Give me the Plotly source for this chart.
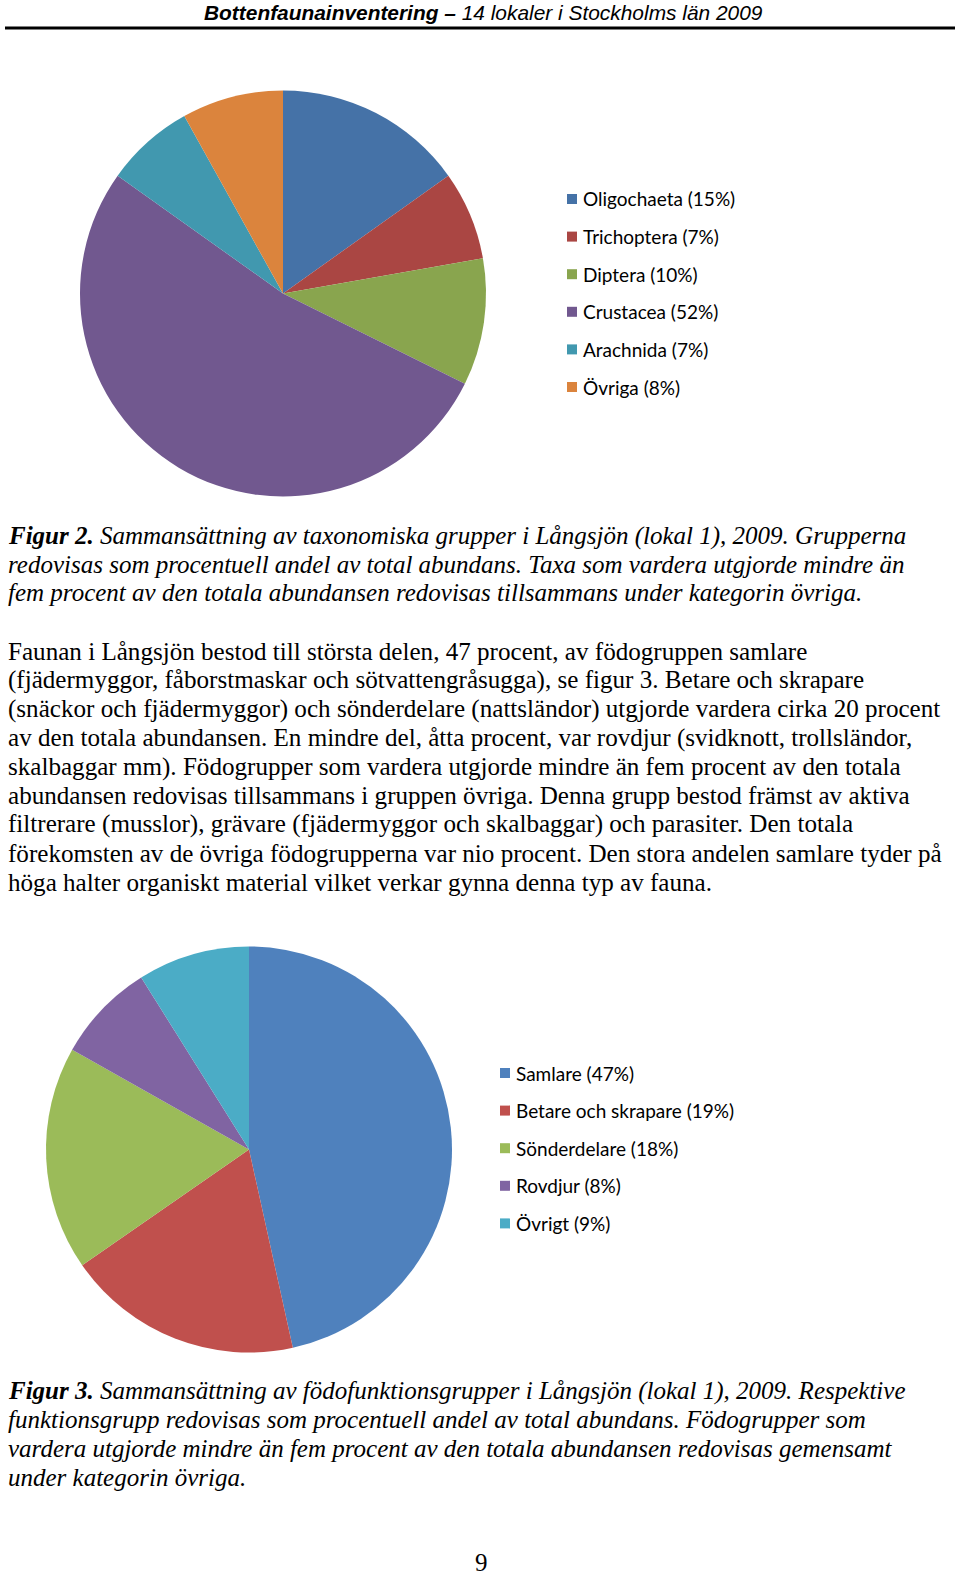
import plotly.graph_objects as go

W, H = 960, 1575

# ---- data ----
taxa_labels = ["Oligochaeta", "Trichoptera", "Diptera", "Crustacea", "Arachnida", "Övriga"]
taxa_values = [15, 7, 10, 52, 7, 8]
taxa_colors = ["#4572A7", "#AA4643", "#89A54E", "#71588F", "#4198AF", "#DB843D"]

food_labels = ["Samlare", "Betare och skrapare", "Sönderdelare", "Rovdjur", "Övrigt"]
food_values = [47, 19, 18, 8, 9]
food_colors = ["#4F81BD", "#C0504D", "#9BBB59", "#8064A2", "#4BACC6"]

header_bold = "Bottenfaunainventering –"
header_rest = " 14 lokaler i Stockholms län 2009"

caption2 = [
    "<b>Figur 2.</b> Sammansättning av taxonomiska grupper i Långsjön (lokal 1), 2009. Grupperna",
    "redovisas som procentuell andel av total abundans. Taxa som vardera utgjorde mindre än",
    "fem procent av den totala abundansen redovisas tillsammans under kategorin övriga.",
]
body = [
    "Faunan i Långsjön bestod till största delen, 47 procent, av födogruppen samlare",
    "(fjädermyggor, fåborstmaskar och sötvattengråsugga), se figur 3. Betare och skrapare",
    "(snäckor och fjädermyggor) och sönderdelare (nattsländor) utgjorde vardera cirka 20 procent",
    "av den totala abundansen. En mindre del, åtta procent, var rovdjur (svidknott, trollsländor,",
    "skalbaggar mm). Födogrupper som vardera utgjorde mindre än fem procent av den totala",
    "abundansen redovisas tillsammans i gruppen övriga. Denna grupp bestod främst av aktiva",
    "filtrerare (musslor), grävare (fjädermyggor och skalbaggar) och parasiter. Den totala",
    "förekomsten av de övriga födogrupperna var nio procent. Den stora andelen samlare tyder på",
    "höga halter organiskt material vilket verkar gynna denna typ av fauna.",
]
caption3 = [
    "<b>Figur 3.</b> Sammansättning av födofunktionsgrupper i Långsjön (lokal 1), 2009. Respektive",
    "funktionsgrupp redovisas som procentuell andel av total abundans. Födogrupper som",
    "vardera utgjorde mindre än fem procent av den totala abundansen redovisas gemensamt",
    "under kategorin övriga.",
]
page_number = "9"


def px(x):
    return x / W


def py(y):
    return 1 - y / H


fig = go.Figure()

# pie 1: center (283, 293.5), r 203
fig.add_trace(go.Pie(
    labels=taxa_labels, values=taxa_values, sort=False, direction="clockwise",
    rotation=0, textinfo="none", hoverinfo="label+percent",
    marker=dict(colors=taxa_colors, line=dict(width=0)),
    domain=dict(x=[px(283 - 203), px(283 + 203)], y=[py(293.5 + 203), py(293.5 - 203)]),
    showlegend=False,
))
# pie 2: center (249, 1149.5), r 203
fig.add_trace(go.Pie(
    labels=food_labels, values=food_values, sort=False, direction="clockwise",
    rotation=0, textinfo="none", hoverinfo="label+percent",
    marker=dict(colors=food_colors, line=dict(width=0)),
    domain=dict(x=[px(249 - 203), px(249 + 203)], y=[py(1149.5 + 203), py(1149.5 - 203)]),
    showlegend=False,
))

annotations = []
shapes = []

# header
annotations.append(dict(
    x=px(483), y=py(12), xref="paper", yref="paper", xanchor="center", yanchor="middle",
    text=f"<b><i>{header_bold}</i></b><i>{header_rest}</i>", showarrow=False,
    font=dict(family="Liberation Sans", size=20.9, color="#000"),
))
shapes.append(dict(type="line", xref="paper", yref="paper", x0=px(5), x1=px(955),
                   y0=py(28), y1=py(28), line=dict(color="#000", width=3)))


def legend(labels, values, colors, x_sq, x_txt, y0, dy, size):
    for i, (lab, val, col) in enumerate(zip(labels, values, colors)):
        yc = y0 + i * dy
        shapes.append(dict(type="rect", xref="paper", yref="paper",
                           x0=px(x_sq), x1=px(x_sq + 10), y0=py(yc + 5), y1=py(yc - 5),
                           fillcolor=col, line=dict(width=0)))
        annotations.append(dict(
            x=px(x_txt), y=py(yc), xref="paper", yref="paper", xanchor="left", yanchor="middle",
            text=f"{lab} ({val}%)", showarrow=False,
            font=dict(family="Lato", size=size, color="#000"),
        ))


legend(taxa_labels, taxa_values, taxa_colors, 567, 581, 199, 37.6, 19)
legend(food_labels, food_values, food_colors, 500, 514, 1073, 37.6, 19)


def text_lines(lines, y0, dy, italic, size=25):
    for i, line in enumerate(lines):
        t = f"<i>{line}</i>" if italic else line
        annotations.append(dict(
            x=px(6), y=py(y0 + i * dy), xref="paper", yref="paper", xanchor="left",
            yanchor="middle", text=t, showarrow=False,
            font=dict(family="Liberation Serif", size=size, color="#000"),
        ))


text_lines(caption2, 535.5, 28.7, True)
text_lines(body, 651, 28.9, False, size=25.1)
text_lines(caption3, 1391, 28.9, True)

annotations.append(dict(
    x=px(481), y=py(1562), xref="paper", yref="paper", xanchor="center", yanchor="middle",
    text=page_number, showarrow=False,
    font=dict(family="Liberation Serif", size=25, color="#000"),
))

fig.update_layout(
    width=W, height=H, margin=dict(l=0, r=0, t=0, b=0),
    paper_bgcolor="white", plot_bgcolor="white",
    annotations=annotations, shapes=shapes,
)

fig.write_html("out.html")
